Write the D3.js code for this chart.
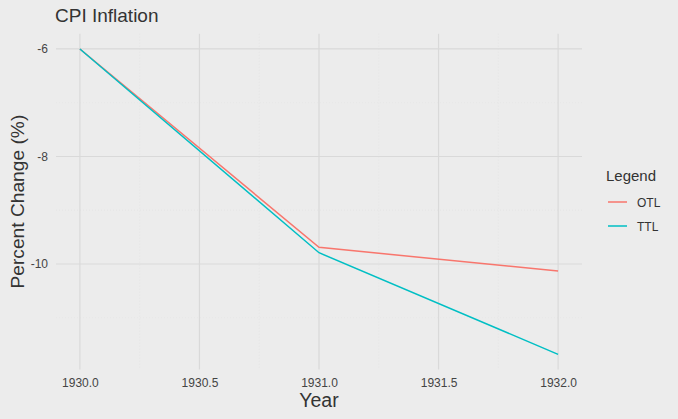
<!DOCTYPE html>
<html><head><meta charset="utf-8">
<script src="https://cdn.jsdelivr.net/npm/d3@7"></script>
<style>
html,body{margin:0;padding:0;background:#ececec;}
svg{display:block;font-family:"Liberation Sans",Arial,sans-serif;}
</style></head>
<body>
<script>
const years = [1930, 1931, 1932];
const otl = [-6.0, -9.69, -10.13];
const ttl = [-6.0, -9.79, -11.68];
const seriesNames = ["OTL", "TTL"];
const seriesColors = ["#F8766D", "#00BFC4"];
const xTicks = [1930, 1930.5, 1931, 1931.5, 1932];
const yTicks = [-6, -8, -10];
const xMinor = [1930.25, 1930.75, 1931.25, 1931.75];
const yMinor = [-7, -9, -11];

const W = 678, H = 419;
const svg = d3.select("body").append("svg").attr("width", W).attr("height", H);
svg.append("rect").attr("width", W).attr("height", H).attr("fill", "#ececec");

const P = {l: 56, r: 582, t: 33.7, b: 369.6};
const x = d3.scaleLinear().domain([1929.9, 1932.1]).range([P.l, P.r]);
const y = d3.scaleLinear().domain([-5.716, -11.964]).range([P.t, P.b]);

const g = svg.append("g");
// minor grid
g.selectAll(".mx").data(xMinor).join("line")
  .attr("x1", d => x(d)).attr("x2", d => x(d)).attr("y1", P.t).attr("y2", P.b)
  .attr("stroke", "#e2e2e2").attr("stroke-width", 0.6).attr("stroke-dasharray", "1,2");
g.selectAll(".my").data(yMinor).join("line")
  .attr("x1", P.l).attr("x2", P.r).attr("y1", d => y(d)).attr("y2", d => y(d))
  .attr("stroke", "#e2e2e2").attr("stroke-width", 0.6).attr("stroke-dasharray", "1,2");
// major grid
g.selectAll(".gx").data(xTicks).join("line")
  .attr("x1", d => x(d)).attr("x2", d => x(d)).attr("y1", P.t).attr("y2", P.b)
  .attr("stroke", "#d9d9d9").attr("stroke-width", 1.2);
g.selectAll(".gy").data(yTicks).join("line")
  .attr("x1", P.l).attr("x2", P.r).attr("y1", d => y(d)).attr("y2", d => y(d))
  .attr("stroke", "#d9d9d9").attr("stroke-width", 1.2);

// axes via d3 axis (no domain/ticks)
const xAxis = svg.append("g").attr("transform", `translate(0,${P.b})`)
  .call(d3.axisBottom(x).tickValues(xTicks).tickFormat(d3.format(".1f")).tickSize(0).tickPadding(9));
const yAxis = svg.append("g").attr("transform", `translate(${P.l},0)`)
  .call(d3.axisLeft(y).tickValues(yTicks).tickFormat(d => d < 0 ? "-" + Math.abs(d) : d).tickSize(0).tickPadding(8));
[xAxis, yAxis].forEach(a => {
  a.select(".domain").remove();
  a.selectAll("text").attr("fill", "#444").attr("font-size", 12).attr("font-family", "Liberation Sans, Arial, sans-serif");
});

// lines
const data = [otl, ttl];
const line = d3.line().x((d, i) => x(years[i])).y(d => y(d));
svg.selectAll(".series").data(data).join("path")
  .attr("d", d => line(d)).attr("fill", "none")
  .attr("stroke", (d, i) => seriesColors[i]).attr("stroke-width", 1.5);

// titles
svg.append("text").attr("x", 55).attr("y", 22).text("CPI Inflation")
  .attr("font-size", 19).attr("fill", "#333");
svg.append("text").attr("x", x(1931)).attr("y", 407).attr("text-anchor", "middle")
  .text("Year").attr("font-size", 19.5).attr("fill", "#333");
svg.append("text").attr("transform", `translate(24,${(P.t + P.b) / 2}) rotate(-90)`)
  .attr("text-anchor", "middle").text("Percent Change (%)").attr("font-size", 19.2).attr("fill", "#333");

// legend
const lg = svg.append("g");
lg.append("text").attr("x", 606).attr("y", 181).text("Legend").attr("font-size", 15).attr("fill", "#333");
seriesNames.forEach((n, i) => {
  const yy = 202 + i * 24;
  lg.append("line").attr("x1", 608).attr("x2", 627).attr("y1", yy).attr("y2", yy)
    .attr("stroke", seriesColors[i]).attr("stroke-width", 1.5);
  lg.append("text").attr("x", 637).attr("y", yy + 4.5).text(n).attr("font-size", 12).attr("fill", "#333");
});
</script>
</body></html>
